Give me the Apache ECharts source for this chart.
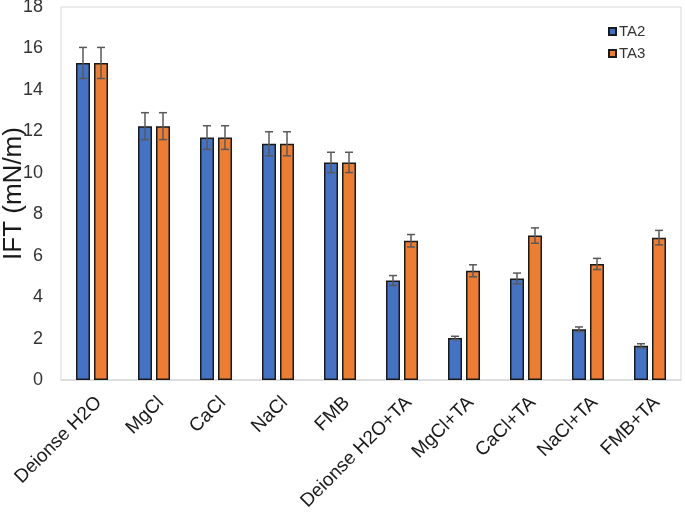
<!DOCTYPE html>
<html>
<head>
<meta charset="utf-8">
<script src="https://cdn.jsdelivr.net/npm/echarts@6/dist/echarts.min.js"></script>
<style>
html,body{margin:0;padding:0;background:#fff;}
#c{width:685px;height:514px;}
</style>
</head>
<body>
<div id="c"></div>
<script>
const categories = ['Deionse H2O','MgCl','CaCl','NaCl','FMB','Deionse H2O+TA','MgCl+TA','CaCl+TA','NaCl+TA','FMB+TA'];
const ta2 = [15.3, 12.25, 11.7, 11.4, 10.5, 4.8, 2.03, 4.9, 2.45, 1.65];
const ta3 = [15.3, 12.25, 11.7, 11.4, 10.5, 6.72, 5.27, 6.97, 5.6, 6.87];
const ta2Err = [0.75, 0.65, 0.57, 0.58, 0.49, 0.24, 0.08, 0.26, 0.11, 0.1];
const ta3Err = [0.75, 0.65, 0.57, 0.58, 0.49, 0.3, 0.29, 0.37, 0.27, 0.35];

const BAR_W = 14;
const GAP_PX = 4;
const CAP_W = 8;

function errData(vals, errs){
  return vals.map((v,i)=>[i, v, errs[i]]);
}
function errRender(sign){
  return function(params, api){
    const x = api.value(0), v = api.value(1), e = api.value(2);
    const hi = api.coord([x, v + e]);
    const lo = api.coord([x, v - e]);
    const off = sign * (BAR_W + GAP_PX) / 2;
    const cx = hi[0] + off;
    const style = {stroke:'#595959', lineWidth:1.5};
    return {type:'group', children:[
      {type:'line', shape:{x1:cx, y1:hi[1], x2:cx, y2:lo[1]}, style:style},
      {type:'line', shape:{x1:cx-CAP_W/2, y1:hi[1], x2:cx+CAP_W/2, y2:hi[1]}, style:style},
      {type:'line', shape:{x1:cx-CAP_W/2, y1:lo[1], x2:cx+CAP_W/2, y2:lo[1]}, style:style}
    ]};
  };
}

const chart = echarts.init(document.getElementById('c'), null, {renderer:'canvas'});
chart.setOption({
  animation:false,
  backgroundColor:'#fff',
  textStyle:{fontFamily:'Liberation Sans, Arial, sans-serif'},
  grid:{left:61, right:4, top:7, bottom:134, containLabel:false, outerBoundsMode:'none',
        show:true, borderColor:'#d9d9d9', borderWidth:1},
  legend:{
    data:['TA2','TA3'], orient:'vertical', left:603, top:19, itemWidth:7, itemHeight:7, itemGap:7,
    icon:'rect',
    textStyle:{fontSize:15, color:'#333', padding:[0,0,0,-2]}
  },
  xAxis:{
    type:'category', data:categories,
    axisLine:{show:true, lineStyle:{color:'#d9d9d9', width:1.5}},
    axisTick:{show:false},
    axisLabel:{rotate:45, fontSize:19, color:'#1a1a1a', margin:13, interval:0, verticalAlign:'top'}
  },
  yAxis:{
    type:'value', min:0, max:18, interval:2,
    name:'IFT (mN/m)', nameLocation:'middle', nameGap:34, nameMoveOverlap:false,
    nameTextStyle:{fontSize:26, color:'#1a1a1a'},
    axisLine:{show:false}, axisTick:{show:false}, splitLine:{show:false},
    axisLabel:{fontSize:18, color:'#333', margin:18}
  },
  series:[
    {name:'TA2', type:'bar', data:ta2, barWidth:BAR_W, barGap:(GAP_PX/BAR_W*100)+'%',
     itemStyle:{color:'#4472C4', borderColor:'#1a1a1a', borderWidth:1.5}},
    {name:'TA3', type:'bar', data:ta3, barWidth:BAR_W, barGap:(GAP_PX/BAR_W*100)+'%',
     itemStyle:{color:'#ED7D31', borderColor:'#1a1a1a', borderWidth:1.5}},
    {name:'errTA2', type:'custom', data:errData(ta2, ta2Err), renderItem:errRender(-1), encode:{x:0,y:1}, z:10, silent:true},
    {name:'errTA3', type:'custom', data:errData(ta3, ta3Err), renderItem:errRender(1), encode:{x:0,y:1}, z:10, silent:true}
  ]
});
</script>
</body>
</html>
